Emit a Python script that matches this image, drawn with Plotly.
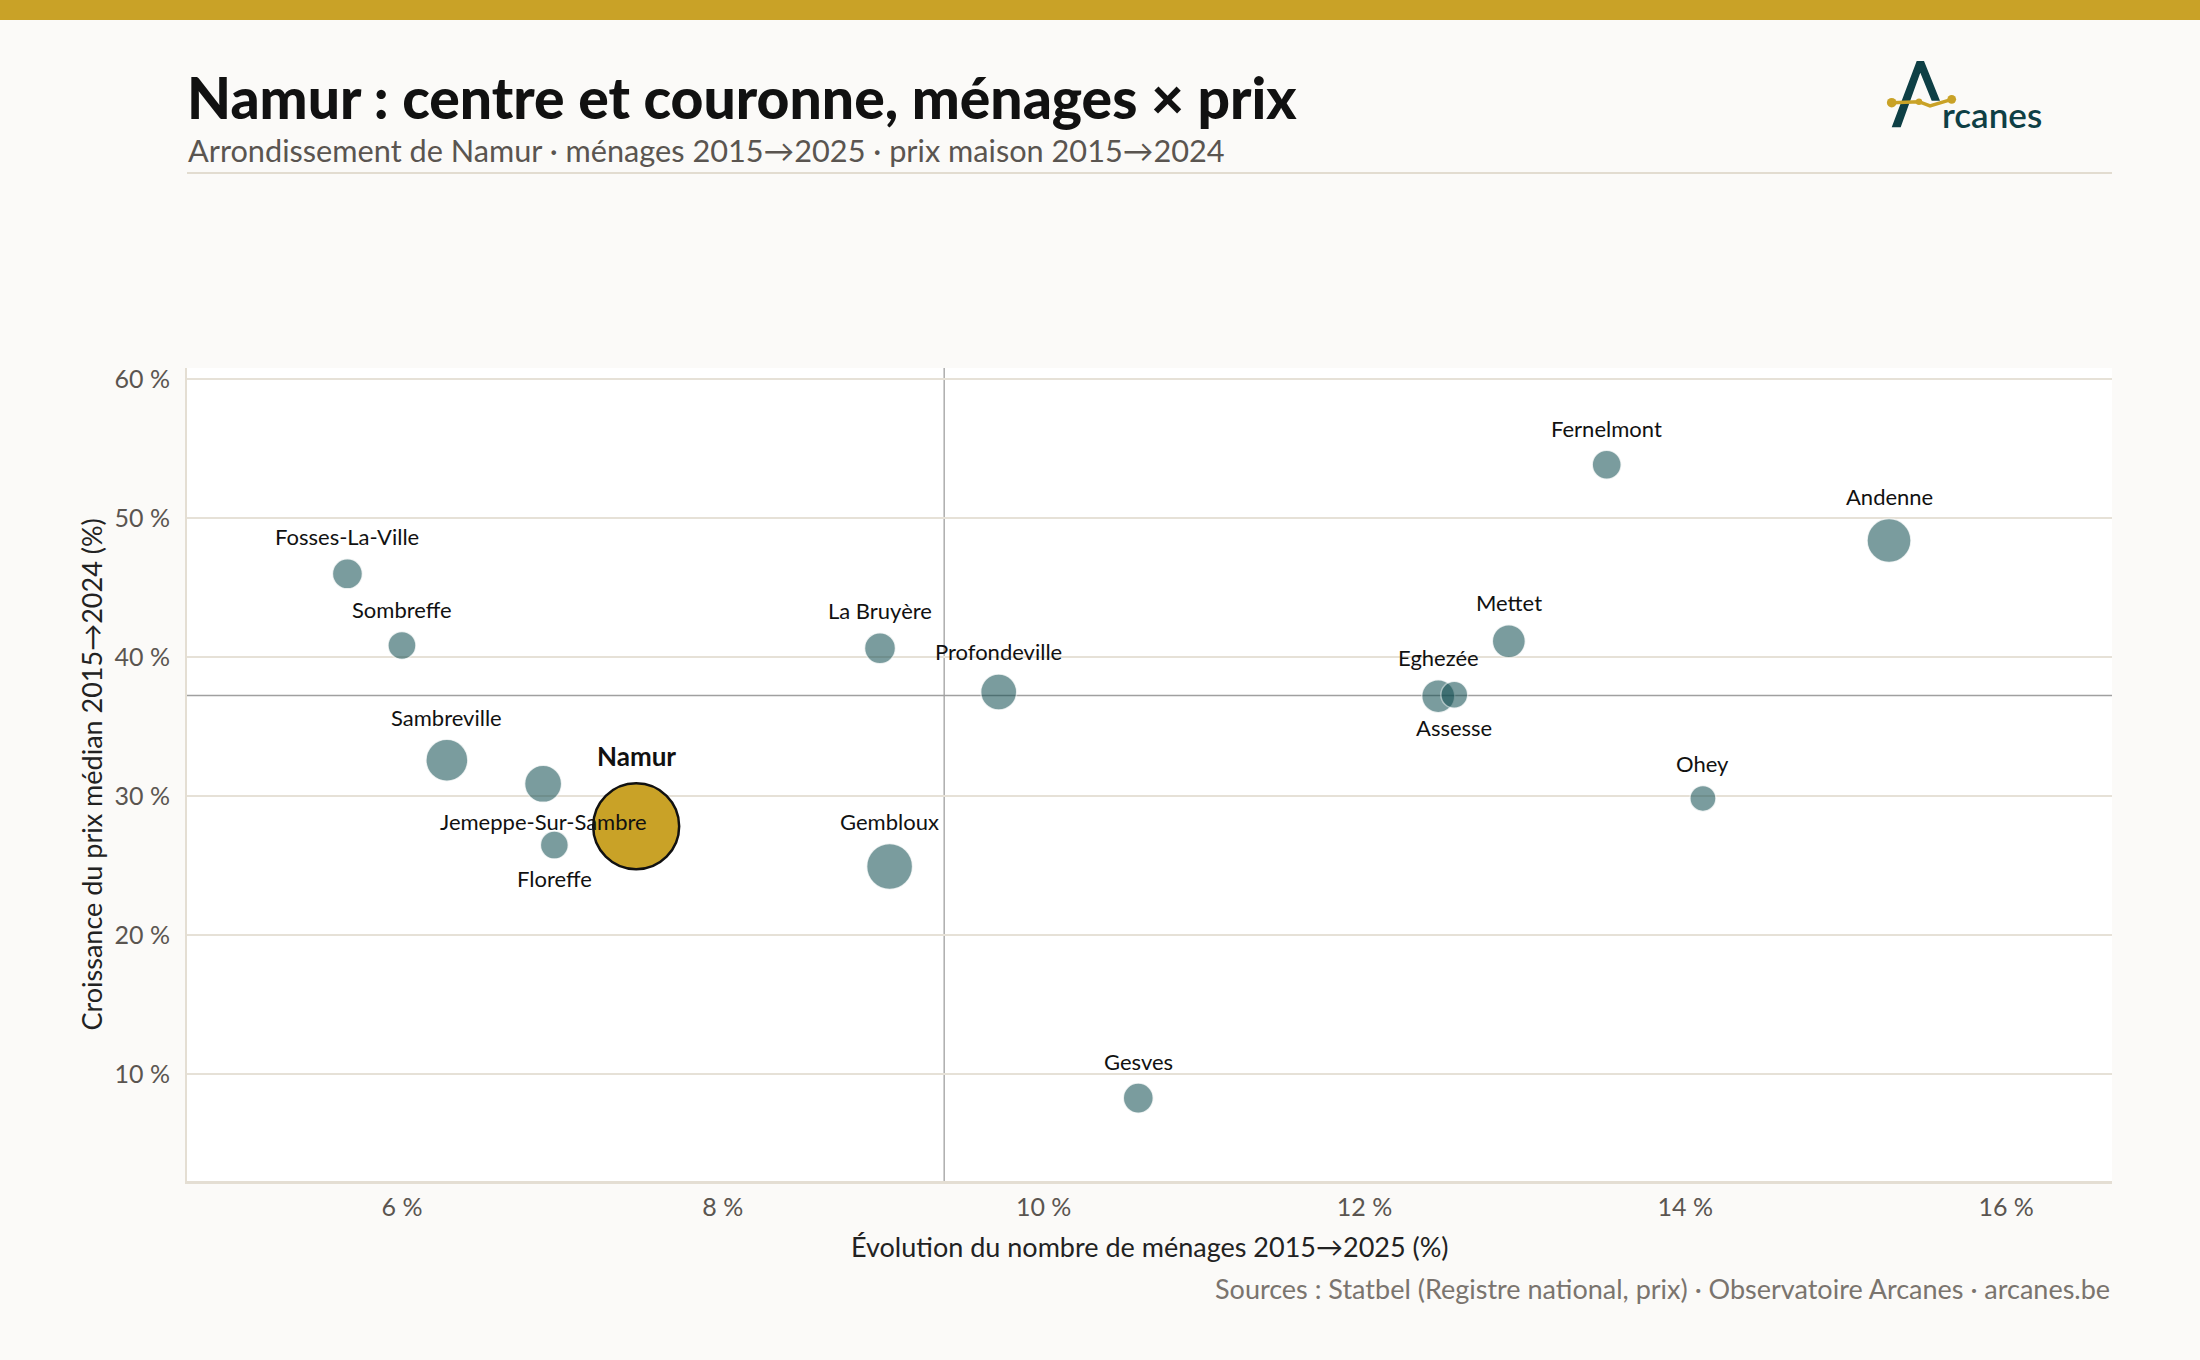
import numpy as np
import plotly.graph_objects as go

# ---------------- data ----------------
communes = ["Fosses-La-Ville", "Sombreffe", "Sambreville", "Jemeppe-Sur-Sambre", "Floreffe",
            "Namur", "La Bruyère", "Gembloux", "Profondeville", "Gesves", "Eghezée",
            "Assesse", "Mettet", "Fernelmont", "Ohey", "Andenne"]
evol_menages = [5.66, 6.00, 6.28, 6.88, 6.95, 7.46, 8.98, 9.04, 9.72, 10.59, 12.46,
                12.56, 12.90, 13.51, 14.11, 15.27]
croiss_prix = [46.0, 40.85, 32.6, 30.9, 26.5, 27.85, 40.65, 24.95, 37.5, 8.3, 37.2,
               37.3, 41.15, 53.85, 29.85, 48.4]
menages = [6100, 5300, 11900, 9300, 5300, 50000, 6500, 14300, 8800, 6100, 7400,
           4900, 7400, 5700, 4600, 13100]
label_pos = ["top", "top", "top", "bottom", "bottom", "top", "top", "top", "top", "top",
             "top", "bottom", "top", "top", "top", "top"]
highlight = "Namur"

x_ticks = [6, 8, 10, 12, 14, 16]
y_ticks = [10, 20, 30, 40, 50, 60]

title = "Namur : centre et couronne, ménages × prix"
subtitle = "Arrondissement de Namur · ménages 2015→2025 · prix maison 2015→2024"
x_title = "Évolution du nombre de ménages 2015→2025 (%)"
y_title = "Croissance du prix médian 2015→2024 (%)"
source = "Sources : Statbel (Registre national, prix) · Observatoire Arcanes · arcanes.be"

# ---------------- styles ----------------
FONT = "Lato"
BG = "#FBFAF8"
GOLD = "#C9A227"
TEAL = "#0F4C4F"
LOGO_TEAL = "#0E3F45"
GRID = "#E6E1D7"

W, H = 2200, 1360
L, R, T, B = 187, 88, 368, 179
PW, PH = W - L - R, H - T - B
BOT = H - B


def px(x):
    return (x - L) / PW


def py(y):
    return (BOT - y) / PH


DMAX = 86
hmax = max(menages)
diam = [DMAX * np.sqrt(h / hmax) for h in menages]

fig = go.Figure()

idx_other = [i for i, c in enumerate(communes) if c != highlight]
idx_hl = [i for i, c in enumerate(communes) if c == highlight]

fig.add_trace(go.Scatter(
    x=[evol_menages[i] for i in idx_other],
    y=[croiss_prix[i] for i in idx_other],
    mode="markers",
    marker=dict(size=[diam[i] for i in idx_other], sizemode="diameter",
                color=TEAL, opacity=0.55,
                line=dict(color="rgba(255,255,255,0.8)", width=1.5)),
    hoverinfo="skip", showlegend=False,
))
fig.add_trace(go.Scatter(
    x=[evol_menages[i] for i in idx_hl],
    y=[croiss_prix[i] for i in idx_hl],
    mode="markers",
    marker=dict(size=[diam[i] for i in idx_hl], sizemode="diameter",
                color=GOLD, opacity=1,
                line=dict(color="#111111", width=2.5)),
    hoverinfo="skip", showlegend=False,
))

annotations = []
for i, c in enumerate(communes):
    r = diam[i] / 2
    if c == highlight:
        txt = "<b>%s</b>" % c
        fs = 26
        ys = r + 27
    else:
        txt = c
        fs = 22
        ys = (r + 22) if label_pos[i] == "top" else -(r + 19)
    annotations.append(dict(x=evol_menages[i], y=croiss_prix[i], xref="x", yref="y",
                            text=txt, showarrow=False, yshift=ys,
                            font=dict(family=FONT, size=fs, color="#111111"),
                            xanchor="center", yanchor="middle"))

# title, subtitle, axis titles, source
annotations += [
    dict(x=px(185), y=py(97), xref="paper", yref="paper", text=title,
         showarrow=False, xanchor="left", yanchor="middle",
         font=dict(family=FONT, size=57, color="#111111", weight=900)),
    dict(x=px(186), y=py(150), xref="paper", yref="paper", text=subtitle,
         showarrow=False, xanchor="left", yanchor="middle",
         font=dict(family=FONT, size=30.7, color="#5A5550")),
    dict(x=0.5, y=py(1246), xref="paper", yref="paper", text=x_title,
         showarrow=False, xanchor="center", yanchor="middle",
         font=dict(family=FONT, size=27, color="#222222")),
    dict(x=px(91), y=0.5, xref="paper", yref="paper", text=y_title, textangle=-90,
         showarrow=False, xanchor="center", yanchor="middle",
         font=dict(family=FONT, size=27, color="#222222")),
    dict(x=1.0, y=py(1288), xref="paper", yref="paper", text=source,
         showarrow=False, xanchor="right", yanchor="middle",
         font=dict(family=FONT, size=27, color="#7A746E")),
    dict(x=px(1940), y=py(114), xref="paper", yref="paper", text="rcanes",
         showarrow=False, xanchor="left", yanchor="middle",
         font=dict(family=FONT, size=35, color=LOGO_TEAL, weight=600)),
]

mx = float(np.median(evol_menages))
my = float(np.median(croiss_prix))

shapes = [
    # top gold band
    dict(type="rect", xref="paper", yref="paper", x0=px(0), x1=px(W), y0=py(20), y1=py(0),
         fillcolor=GOLD, line=dict(width=0), layer="below"),
    # separator under subtitle
    dict(type="line", xref="paper", yref="paper", x0=px(187), x1=px(2112), y0=py(173), y1=py(173),
         line=dict(color="#E2DCD0", width=2)),
    # median lines
    dict(type="line", xref="x", yref="paper", x0=mx, x1=mx, y0=0, y1=1,
         line=dict(color="#A0A0A0", width=1.3), layer="below"),
    dict(type="line", xref="paper", yref="y", x0=0, x1=1, y0=my, y1=my,
         line=dict(color="#A0A0A0", width=1.3), layer="below"),
]

# logo "A"
A_pts = [(1891.7, 127.3), (1916.7, 61), (1924, 61), (1940, 100.7), (1931.7, 100.7),
         (1920.3, 72.7), (1900.7, 127.3)]
path = "M " + " L ".join("%.5f,%.5f" % (px(a), py(b)) for a, b in A_pts) + " Z"
shapes.append(dict(type="path", xref="paper", yref="paper", path=path,
                   fillcolor=LOGO_TEAL, line=dict(width=0)))
gold_pts = [(1891.7, 102.7), (1919, 101.7), (1930, 106), (1951.7, 99.3)]
gpath = "M " + " L ".join("%.5f,%.5f" % (px(a), py(b)) for a, b in gold_pts)
shapes.append(dict(type="path", xref="paper", yref="paper", path=gpath,
                   line=dict(color=GOLD, width=3.5)))
for (cx, cy, rr) in [(1891.7, 102.7, 4.8), (1919, 101.7, 3.2), (1951.7, 99.3, 4.4)]:
    shapes.append(dict(type="circle", xref="paper", yref="paper",
                       x0=px(cx - rr), x1=px(cx + rr), y0=py(cy + rr), y1=py(cy - rr),
                       fillcolor=GOLD, line=dict(width=0)))

fig.update_layout(
    width=W, height=H, autosize=False,
    margin=dict(l=L, r=R, t=T, b=B),
    paper_bgcolor=BG, plot_bgcolor="#FFFFFF",
    font=dict(family=FONT, color="#5A5550"),
    annotations=annotations, shapes=shapes,
    xaxis=dict(range=[4.66, 16.66], tickvals=x_ticks, ticktext=["%d %%" % v for v in x_ticks],
               showgrid=False, zeroline=False, showline=True, linecolor="#E4DED3", linewidth=3,
               ticks="", ticklabelstandoff=2,
               tickfont=dict(family=FONT, size=25, color="#5A5550")),
    yaxis=dict(range=[2.34, 60.8], tickvals=y_ticks, ticktext=["%d %%" % v for v in y_ticks],
               showgrid=True, gridcolor=GRID, gridwidth=1.5, zeroline=False,
               showline=True, linecolor="#E4DED3", linewidth=2,
               ticks="", ticklabelstandoff=10,
               tickfont=dict(family=FONT, size=25, color="#5A5550")),
)

fig.write_html("out.html")
